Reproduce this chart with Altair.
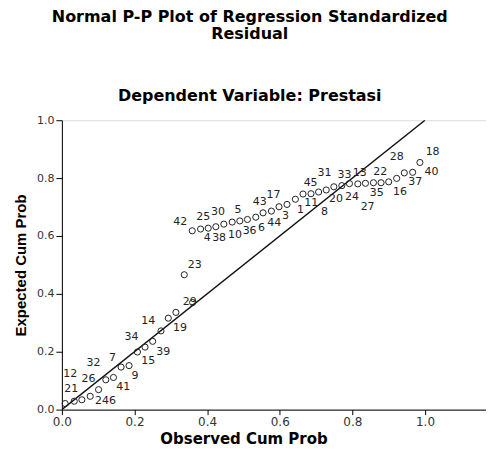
import altair as alt
import pandas as pd

# Observed / expected cumulative probabilities of the plotted cases
obs = [0.009, 0.034, 0.055, 0.078, 0.101, 0.121, 0.142, 0.163, 0.185, 0.208,
       0.229, 0.250, 0.273, 0.293, 0.314, 0.337, 0.360,
       0.359, 0.382, 0.403, 0.424, 0.446, 0.469, 0.490, 0.511, 0.534, 0.554,
       0.577, 0.598, 0.620, 0.643, 0.664, 0.686, 0.707, 0.728, 0.749, 0.771,
       0.792, 0.815, 0.836, 0.858, 0.879, 0.900, 0.922, 0.943, 0.966, 0.986]
exp = [0.021, 0.029, 0.034, 0.046, 0.069, 0.103, 0.111, 0.147, 0.152, 0.199,
       0.216, 0.236, 0.272, 0.316, 0.336, 0.466, 0.370,
       0.618, 0.624, 0.627, 0.632, 0.641, 0.648, 0.652, 0.657, 0.665, 0.680,
       0.686, 0.701, 0.709, 0.727, 0.745, 0.746, 0.752, 0.759, 0.770, 0.774,
       0.781, 0.780, 0.782, 0.784, 0.784, 0.787, 0.799, 0.818, 0.820, 0.854]

# Case-number labels and where they sit (data units)
lab_text = ["42", "25", "30", "5", "43", "17", "45", "31", "33", "13", "22", "28",
            "18", "40", "37", "16", "35", "27", "24", "20", "8", "11", "1", "3",
            "44", "6", "36", "10", "38", "4",
            "23", "29", "14", "19", "34", "39", "15", "7", "32", "9", "41", "12",
            "26", "21", "2", "46"]
lab_x = [0.326, 0.389, 0.430, 0.485, 0.545, 0.583, 0.685, 0.723, 0.778, 0.820, 0.877, 0.922,
         1.021, 1.018, 0.973, 0.931, 0.867, 0.842, 0.799, 0.755, 0.723, 0.687, 0.657, 0.616,
         0.585, 0.550, 0.517, 0.477, 0.433, 0.400,
         0.366, 0.352, 0.238, 0.325, 0.192, 0.279, 0.238, 0.139, 0.087, 0.201, 0.169, 0.023,
         0.073, 0.026, 0.101, 0.130]
lab_y = [0.650, 0.667, 0.682, 0.690, 0.718, 0.741, 0.782, 0.818, 0.810, 0.816, 0.820, 0.873,
         0.889, 0.820, 0.785, 0.753, 0.747, 0.701, 0.736, 0.728, 0.684, 0.713, 0.690, 0.669,
         0.645, 0.627, 0.617, 0.603, 0.593, 0.593,
         0.500, 0.372, 0.307, 0.282, 0.251, 0.199, 0.167, 0.178, 0.161, 0.115, 0.077, 0.123,
         0.107, 0.072, 0.031, 0.031]

# Reference diagonal
ref_x = [0.0, 1.0]
ref_y = [0.0, 1.0]

tick_vals = [0.0, 0.2, 0.4, 0.6, 0.8, 1.0]

points = pd.DataFrame({"obs": obs, "exp": exp})
labels = pd.DataFrame({"case": lab_text, "lx": lab_x, "ly": lab_y})
ref = pd.DataFrame({"x": ref_x, "y": ref_y})

xscale = alt.Scale(domain=[0, 1.168], nice=False, zero=False)
yscale = alt.Scale(domain=[0, 1], nice=False)

xaxis = alt.Axis(values=tick_vals, format=".1f", title="Observed Cum Prob", grid=False,
                 tickSize=5, tickColor="#000", domainColor="#000", labelPadding=2,
                 labelFont="DejaVu Sans", labelFontSize=12, labelColor="#333",
                 titleFont="DejaVu Sans", titleFontSize=15, titleFontWeight="bold",
                 titleColor="#000", titlePadding=4, titleX=182, titleAlign="center",
                 labelFlush=False)
yaxis = alt.Axis(values=tick_vals, format=".1f", title="Expected Cum Prob", grid=False,
                 tickSize=6, tickColor="#000", domainColor="#000", labelPadding=2,
                 labelFont="DejaVu Sans", labelFontSize=11, labelColor="#333",
                 titleFont="Liberation Sans", titleFontSize=15, titleFontWeight="bold",
                 titleColor="#000", titlePadding=8, labelFlush=False)

line = alt.Chart(ref).mark_line(color="#111", strokeWidth=1.4, clip=True).encode(
    x=alt.X("x:Q", scale=xscale, axis=xaxis),
    y=alt.Y("y:Q", scale=yscale, axis=yaxis),
)

pts = alt.Chart(points).mark_point(shape="circle", size=38, filled=False,
                                   stroke="#222", strokeWidth=1, opacity=1).encode(
    x=alt.X("obs:Q", scale=xscale),
    y=alt.Y("exp:Q", scale=yscale),
)

txt = alt.Chart(labels).mark_text(font="DejaVu Sans", fontSize=11, color="#222",
                                  align="center", baseline="middle").encode(
    x=alt.X("lx:Q", scale=xscale),
    y=alt.Y("ly:Q", scale=yscale),
    text="case:N",
)

chart = alt.layer(line, pts, txt).properties(
    width=425,
    height=290,
    padding={"left": 5, "top": 0, "right": 0, "bottom": 0},
    title=alt.TitleParams(
        text=["Normal P-P Plot of Regression Standardized", "Residual"],
        subtitle="Dependent Variable:  Prestasi",
        font="DejaVu Sans", fontSize=16, fontWeight="bold", color="#000",
        lineHeight=17.5,
        subtitleFont="DejaVu Sans", subtitleFontSize=16, subtitleFontWeight="bold",
        subtitleColor="#000", subtitlePadding=46,
        anchor="middle", frame="bounds", offset=10,
    ),
).configure_view(
    fill="#F0F0F0", stroke="#A0A0A0", strokeWidth=1
).configure(background="white")

chart.save("out.html", embed_options={"renderer": "svg", "actions": False})
